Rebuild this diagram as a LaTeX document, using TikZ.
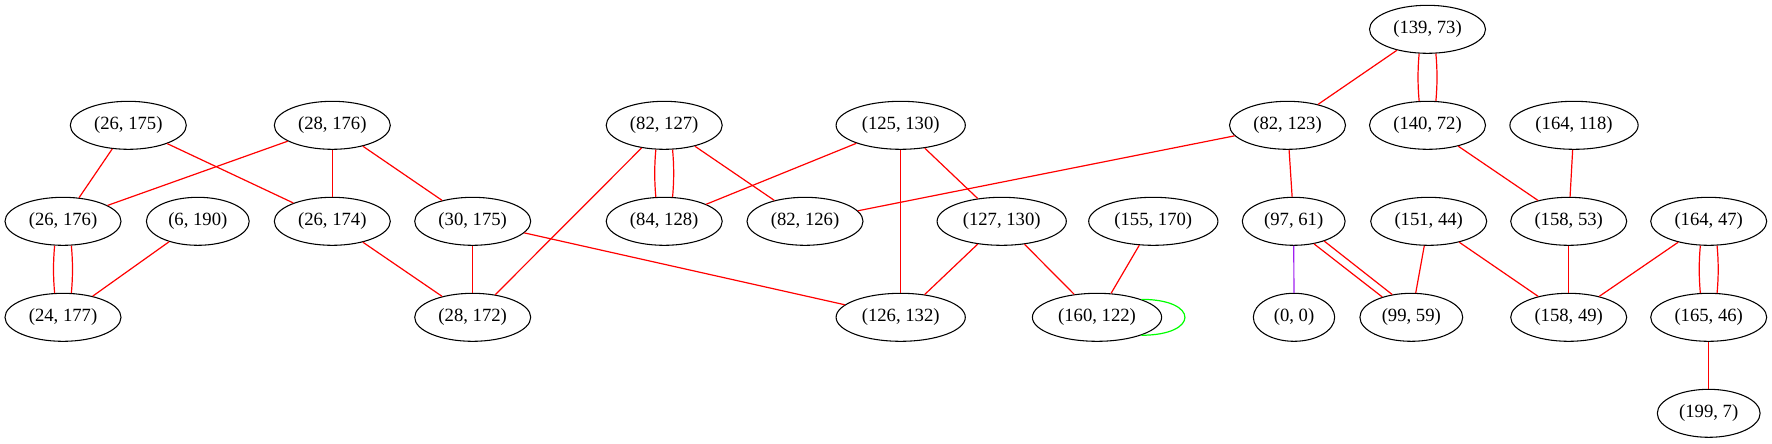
\documentclass[tikz,border=0pt]{standalone}
\usepackage{fontspec}
\setmainfont{Liberation Serif}
\usetikzlibrary{shapes.geometric}

\begin{document}
\begin{tikzpicture}[x=0.75pt,y=0.75pt,yscale=-1,xscale=1,
  pt/.style={draw, ellipse, line width=0.8pt, minimum height=36pt, minimum width=61pt, inner xsep=5.1pt, inner ysep=2pt, font=\fontsize{14}{16}\selectfont},
  red edge/.style={color={rgb, 255:red, 255; green, 0; blue, 0 }, line width=0.9pt},
  purple edge/.style={color={rgb, 255:red, 160; green, 32; blue, 240 }, line width=0.9pt},
  green edge/.style={color={rgb, 255:red, 0; green, 255; blue, 0 }, line width=0.9pt}]
%set diagram left start at 0, and has height of 443
\useasboundingbox (0,0) rectangle (1772,443);

%Shape: Ellipse -- rank 1
\node [pt] (n139x73) at (1427.5,29.3) {(139, 73)};
%Shape: Ellipse -- rank 2
\node [pt] (n26x175) at (128.3,125.3) {(26, 175)};
\node [pt] (n28x176) at (332.3,125.3) {(28, 176)};
\node [pt] (n82x127) at (664.2,125.3) {(82, 127)};
\node [pt] (n125x130) at (900.7,125.3) {(125, 130)};
\node [pt] (n82x123) at (1287.5,125.3) {(82, 123)};
\node [pt] (n140x72) at (1427.5,125.3) {(140, 72)};
\node [pt] (n164x118) at (1574,125.3) {(164, 118)};
%Shape: Ellipse -- rank 3
\node [pt] (n26x176) at (63,221.3) {(26, 176)};
\node [pt] (n6x190) at (197.8,221.3) {(6, 190)};
\node [pt] (n26x174) at (332.3,221.3) {(26, 174)};
\node [pt] (n30x175) at (472.7,221.3) {(30, 175)};
\node [pt] (n84x128) at (664.2,221.3) {(84, 128)};
\node [pt] (n82x126) at (805,221.3) {(82, 126)};
\node [pt] (n127x130) at (1001.7,221.3) {(127, 130)};
\node [pt] (n155x170) at (1153.3,221.3) {(155, 170)};
\node [pt] (n97x61) at (1293.7,221.3) {(97, 61)};
\node [pt] (n151x44) at (1428.7,221.3) {(151, 44)};
\node [pt] (n158x53) at (1568.7,221.3) {(158, 53)};
\node [pt] (n164x47) at (1708.7,221.3) {(164, 47)};
%Shape: Ellipse -- rank 4
\node [pt] (n24x177) at (63,317.3) {(24, 177)};
\node [pt] (n28x172) at (472.7,317.3) {(28, 172)};
\node [pt] (n126x132) at (900.7,317.3) {(126, 132)};
\node [pt] (n160x122) at (1097,317.3) {(160, 122)};
\node [pt] (n0x0) at (1294,317.3) {(0, 0)};
\node [pt] (n99x59) at (1411.3,317.3) {(99, 59)};
\node [pt] (n158x49) at (1568.7,317.3) {(158, 49)};
\node [pt] (n165x46) at (1708.7,317.3) {(165, 46)};
%Shape: Ellipse -- rank 5
\node [pt] (n199x7) at (1708.7,413.3) {(199, 7)};

%Straight Lines
\draw [red edge] (n26x175) -- (n26x176);
\draw [red edge] (n26x175) -- (n26x174);
\draw [red edge] (n28x176) -- (n26x176);
\draw [red edge] (n28x176) -- (n26x174);
\draw [red edge] (n28x176) -- (n30x175);
\draw [red edge] (n6x190) -- (n24x177);
\draw [red edge] (n26x174) -- (n28x172);
\draw [red edge] (n30x175) -- (n28x172);
\draw [red edge] (n30x175) -- (n126x132);
\draw [red edge] (n82x127) -- (n28x172);
\draw [red edge] (n82x127) -- (n82x126);
\draw [red edge] (n125x130) -- (n84x128);
\draw [red edge] (n125x130) -- (n126x132);
\draw [red edge] (n125x130) -- (n127x130);
\draw [red edge] (n82x123) -- (n82x126);
\draw [red edge] (n82x123) -- (n97x61);
\draw [red edge] (n139x73) -- (n82x123);
\draw [red edge] (n140x72) -- (n158x53);
\draw [red edge] (n164x118) -- (n158x53);
\draw [red edge] (n127x130) -- (n126x132);
\draw [red edge] (n127x130) -- (n160x122);
\draw [red edge] (n155x170) -- (n160x122);
\draw [red edge] (n151x44) -- (n99x59);
\draw [red edge] (n151x44) -- (n158x49);
\draw [red edge] (n158x53) -- (n158x49);
\draw [red edge] (n164x47) -- (n158x49);
\draw [red edge] (n165x46) -- (n199x7);
\draw [purple edge] (n97x61) -- (n0x0);

%Double Lines
\draw [red edge] (n26x176.-109) .. controls +(-1.5,16) and +(-1.5,-16) .. (n24x177.109);
\draw [red edge] (n26x176.-71) .. controls +(1.5,16) and +(1.5,-16) .. (n24x177.71);
\draw [red edge] (n82x127.-109) .. controls +(-1.5,16) and +(-1.5,-16) .. (n84x128.109);
\draw [red edge] (n82x127.-71) .. controls +(1.5,16) and +(1.5,-16) .. (n84x128.71);
\draw [red edge] (n139x73.-109) .. controls +(-1.5,16) and +(-1.5,-16) .. (n140x72.109);
\draw [red edge] (n139x73.-71) .. controls +(1.5,16) and +(1.5,-16) .. (n140x72.71);
\draw [red edge] (n164x47.-109) .. controls +(-1.5,16) and +(-1.5,-16) .. (n165x46.109);
\draw [red edge] (n164x47.-71) .. controls +(1.5,16) and +(1.5,-16) .. (n165x46.71);
\draw [red edge] (n97x61.-48) -- (n99x59.145);
\draw [red edge] (n97x61.-33) -- (n99x59.130);

%Loop
\draw [green edge] (n160x122.22) to[out=0,in=0,distance=43.5pt] (n160x122.-22);

\end{tikzpicture}
\end{document}
